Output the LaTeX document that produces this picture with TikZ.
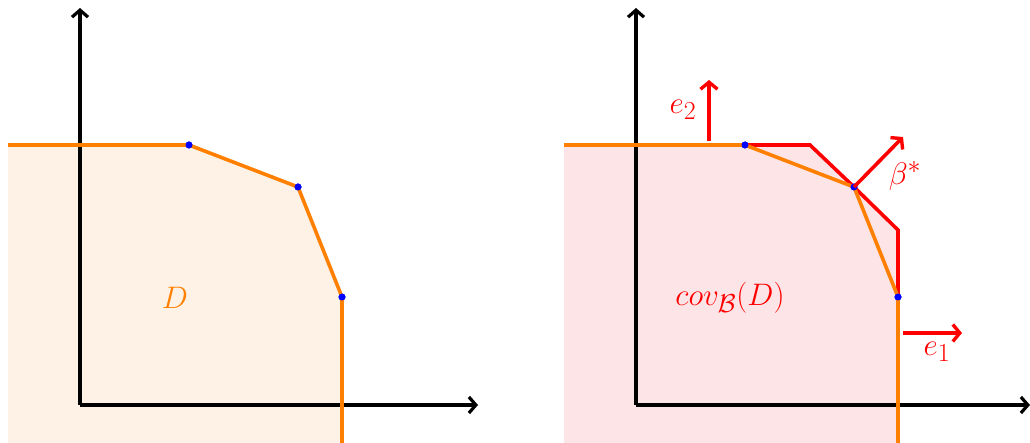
\documentclass[tikz,border=0pt]{standalone}
\usetikzlibrary{arrows.meta}
\definecolor{myorange}{RGB}{255,128,0}
\definecolor{myred}{RGB}{255,0,0}
\definecolor{lightorange}{RGB}{254,242,230}
\definecolor{lightred}{RGB}{253,229,231}
\tikzset{
  axis/.style={black, line width=3.4pt, -{Straight Barb[length=7pt,width=16pt,line width=3.2pt]}},
  bound/.style={myorange, line width=3.6pt, line join=miter},
  redline/.style={myred, line width=3.6pt},
  redarrow/.style={myred, line width=3.6pt, -{Straight Barb[length=7pt,width=17pt,line width=3.4pt]}},
  dot/.style={circle, fill=blue, inner sep=0pt, minimum size=7pt},
  lbl/.style={font=\Huge, scale=1.25},
}
\begin{document}
\begin{tikzpicture}[x=1pt,y=-1pt]
\useasboundingbox (0,0) rectangle (1030,443);
% ---------- left panel ----------
\coordinate (L0) at (8,145);
\coordinate (L4) at (342,443);
\fill[lightorange] (8,145) -- (189,145) -- (298,187) -- (342,297) -- (342,443) -- (8,443) -- cycle;
\coordinate (O1) at (80,405);
\coordinate (Y1) at (80,8);
\coordinate (X1) at (478,405);
\draw[axis] (O1) -- (Y1);
\draw[axis] (O1) -- (X1);
\node[dot] (a1) at (189,145) {};
\node[dot] (a2) at (298,187) {};
\node[dot] (a3) at (342,297) {};
\draw[bound] (L0) -- (a1.center) -- (a2.center) -- (a3.center) -- (L4);
\node[dot] at (a1) {};
\node[dot] at (a2) {};
\node[dot] at (a3) {};
\node[lbl, text=myorange] (D) at (175,298) {$D$};
% ---------- right panel ----------
\coordinate (R0) at (564,145);
\coordinate (R4) at (898,443);
\coordinate (c1) at (810,145);
\coordinate (c2) at (898,230);
\fill[lightred] (564,145) -- (810,145) -- (854,187) -- (898,230) -- (898,443) -- (564,443) -- cycle;
\coordinate (O2) at (636,405);
\coordinate (Y2) at (636,8);
\coordinate (X2) at (1030,405);
\draw[axis] (O2) -- (Y2);
\draw[axis] (O2) -- (X2);
\node[dot] (b1) at (745,145) {};
\node[dot] (b2) at (854,187) {};
\node[dot] (b3) at (898,297) {};
\draw[redline] (b1.center) -- (c1) -- (b2.center) -- (c2) -- (b3.center);
\draw[bound] (R0) -- (b1.center) -- (b2.center) -- (b3.center) -- (R4);
\node[dot] at (b1) {};
\node[dot] at (b2) {};
\node[dot] at (b3) {};
% arrows
\coordinate (e2s) at (709,141);
\coordinate (e2e) at (709,80);
\draw[redarrow] (e2s) -- (e2e);
\node[lbl, text=myred] (e2) at (683,110) {$e_2$};
\coordinate (bse) at (903,137);
\draw[redarrow] (b2.center) -- (bse);
\node[lbl, text=myred] (beta) at (905,176) {$\beta^*$};
\coordinate (e1s) at (903,333);
\coordinate (e1e) at (962,333);
\draw[redarrow] (e1s) -- (e1e);
\node[lbl, text=myred] (e1) at (937,352) {$e_1$};
\node[lbl, text=myred] (cov) at (730,298) {$cov_{\mathcal{B}}(D)$};
\end{tikzpicture}
\end{document}
